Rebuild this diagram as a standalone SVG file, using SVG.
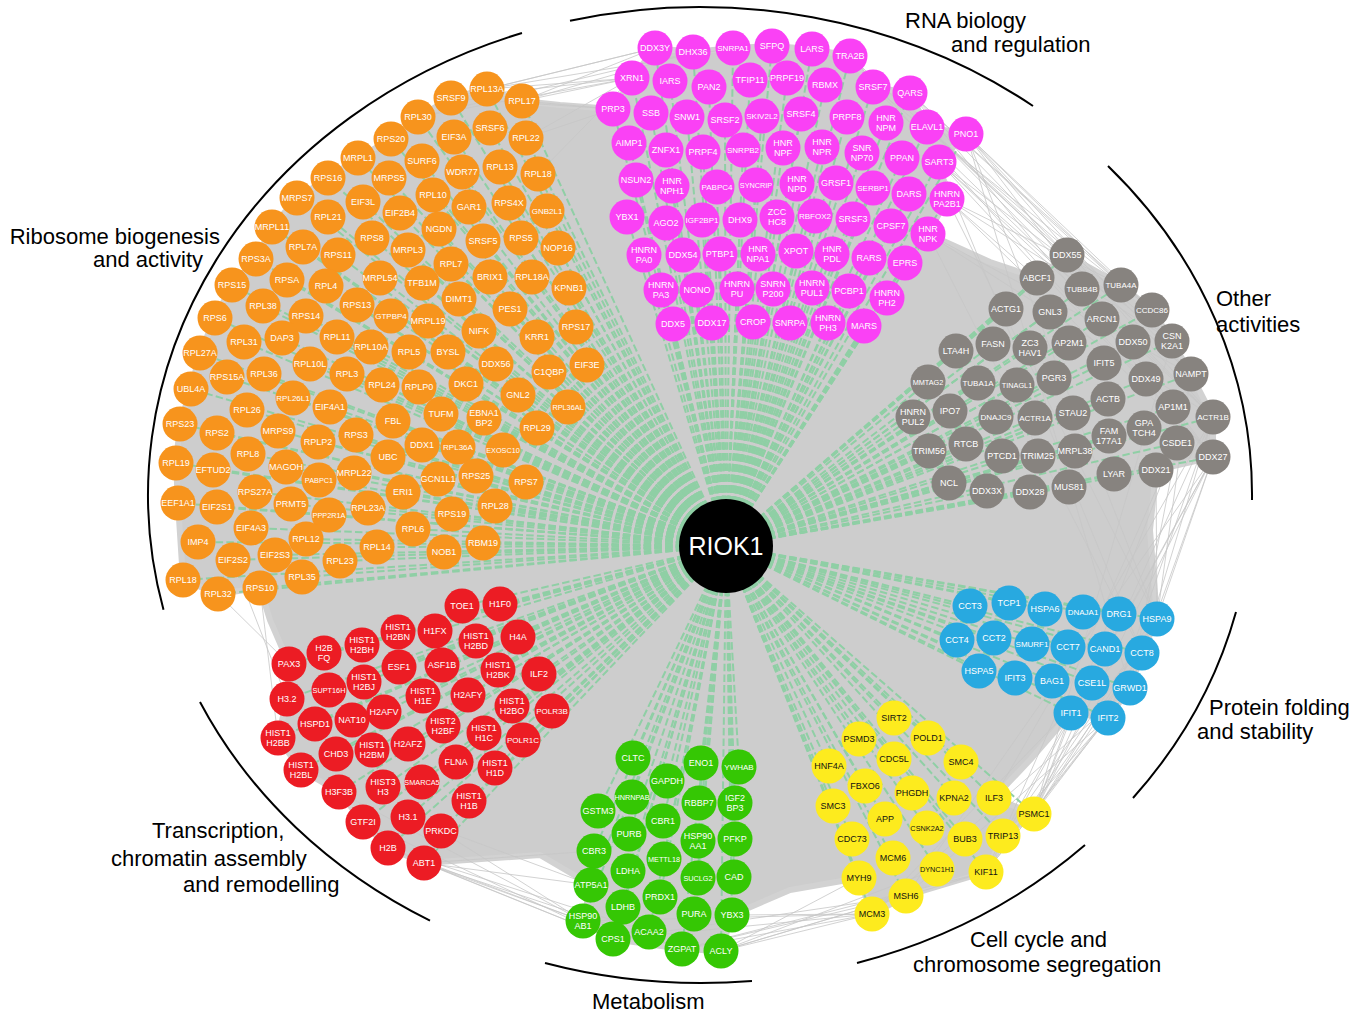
<svg xmlns="http://www.w3.org/2000/svg" width="1365" height="1014" viewBox="0 0 1365 1014">
<style>
text{font-family:"Liberation Sans",Arial,sans-serif;text-anchor:middle;dominant-baseline:central;font-size:9px;fill:#fff}
.s8{font-size:8px}.s7{font-size:7.3px}
.o circle{fill:#F7941D}.m circle{fill:#FA41F5}.g circle{fill:#87837F}.r circle{fill:#EC1C24}
.gr circle{fill:#35C704}.y circle{fill:#FDEB1E}.b circle{fill:#28A9E0}
.y text{fill:#111}
.cat{font-size:22px;fill:#000;text-anchor:start;dominant-baseline:auto}
.cat.e{text-anchor:end}
.arc{fill:none;stroke:#000;stroke-width:2}
.mesh{fill:#cdcdcd;stroke:#d2d2d2;stroke-width:6;stroke-linejoin:round}
.fan{fill:none;stroke:#c6c6c6;stroke-width:0.8}
.sp path{fill:none;stroke:#8fcfa5;stroke-width:2;stroke-dasharray:7.5 3.2}
</style>
<rect width="1365" height="1014" fill="#fff"/>
<g id="connectors">
<path class="mesh" d="M487,89 L522,101 L560,105 L613,109 L632,78 L655,48 L693,52 L733,48 L772,46 L812,49 L850,56 L873,87 L910,93 L927,127 L966,134 L939,162 L947,199 L928,234 L990,262 L1037,278 L1067,255 L1121,285 L1152,310 L1172,341 L1191,374 L1213,417 L1213,457 L1156,470 L1150,530 L1157,619 L1142,653 L1130,688 L1108,718 L1071,713 L1030,760 L994,798 L1034,814 L1003,836 L986,872 L906,896 L872,914 L859,878 L790,890 L732,915 L721,951 L682,949 L613,939 L583,921 L591,885 L540,855 L424,863 L388,848 L363,822 L339,792 L301,770 L278,738 L287,699 L289,664 L270,620 L260,588 L218,594 L183,580 L178,503 L176,463 L180,424 L191,389 L200,353 L215,318 L232,285 L256,259 L272,227 L297,198 L328,178 L358,158 L391,139 L418,117 L451,98 Z"/>
<path class="fan" d="M966,134L1152,310M966,134L1191,374M966,134L1213,417M966,134L1213,457M966,134L1157,619M966,134L1121,285M939,162L1172,341M939,162L1213,417M939,162L1213,457M939,162L1142,653M927,127L1191,374M927,127L1067,255M927,127L1213,417M947,199L1121,285M947,199L1213,457M947,199L1157,619M947,199L1172,341M910,93L1152,310M910,93L1067,255M910,93L1213,457M928,234L1191,374M928,234L1142,653M928,234L1213,417M873,87L1213,417M873,87L1152,310M850,56L1213,457M850,56L1191,374M966,134L1130,688M939,162L1082,289M947,199L1037,278M910,93L1121,285M927,127L1172,341
M1213,457L1157,619M1213,457L1130,688M1213,457L1034,814M1213,457L986,872M1213,457L1003,836M1213,417L1142,653M1213,417L1034,814M1213,417L1108,718M1177,443L1034,814M1177,443L986,872M1191,374L1130,688M1191,374L1157,619M1156,470L1157,619M1172,341L1034,814M1157,619L1034,814M1157,619L986,872M1157,619L1003,836M1142,653L1034,814M1142,653L986,872M1130,688L986,872M1130,688L1034,814M1130,688L872,914M1108,718L1003,836M1108,718L986,872M1108,718L906,896M1071,713L1034,814M1157,619L872,914M1213,457L906,896M1213,417L994,798
M872,914L721,951M872,914L682,949M872,914L732,915M906,896L721,951M906,896L682,949M859,878L721,951M872,914L613,939M906,896L613,939M986,872L721,951M937,869L721,951M872,914L583,921M986,872L682,949
M583,921L424,863M583,921L388,848M583,921L441,831M591,885L424,863M591,885L408,817M613,939L424,863M613,939L388,848M613,939L363,822M594,851L424,863M682,949L424,863M649,932L388,848M583,921L339,792
M289,664L218,594M287,699L233,560M278,738L260,588
M487,89L655,48M487,89L632,78M522,101L655,48M522,101L693,52M522,101L632,78M522,101L613,109M451,98L655,48M451,98L632,78M418,117L632,78M418,117L693,52M526,138L613,109M526,138L632,78M487,89L733,48M451,98L613,109M538,174L632,78"/>
<g class="sp">
<path d="M726 546L487 89"/><path d="M726 546L522 101"/><path d="M726 546L451 98"/><path d="M726 546L418 117"/><path d="M726 546L490 128"/><path d="M726 546L454 137"/><path d="M726 546L526 138"/><path d="M726 546L391 139"/><path d="M726 546L358 158"/><path d="M726 546L422 161"/><path d="M726 546L462 172"/><path d="M726 546L500 167"/><path d="M726 546L538 174"/><path d="M726 546L328 178"/><path d="M726 546L389 178"/><path d="M726 546L433 195"/><path d="M726 546L469 207"/><path d="M726 546L509 203"/><path d="M726 546L547 211"/><path d="M726 546L297 198"/><path d="M726 546L363 202"/><path d="M726 546L400 213"/><path d="M726 546L328 217"/><path d="M726 546L439 229"/><path d="M726 546L372 238"/><path d="M726 546L483 241"/><path d="M726 546L521 238"/><path d="M726 546L558 248"/><path d="M726 546L272 227"/><path d="M726 546L303 247"/><path d="M726 546L408 250"/><path d="M726 546L338 255"/><path d="M726 546L451 264"/><path d="M726 546L490 277"/><path d="M726 546L532 277"/><path d="M726 546L569 288"/><path d="M726 546L256 259"/><path d="M726 546L287 280"/><path d="M726 546L326 286"/><path d="M726 546L380 278"/><path d="M726 546L422 283"/><path d="M726 546L459 299"/><path d="M726 546L510 309"/><path d="M726 546L232 285"/><path d="M726 546L263 306"/><path d="M726 546L357 305"/><path d="M726 546L306 316"/><path d="M726 546L391 316"/><path d="M726 546L428 321"/><path d="M726 546L479 331"/><path d="M726 546L537 337"/><path d="M726 546L576 327"/><path d="M726 546L215 318"/><path d="M726 546L244 342"/><path d="M726 546L282 338"/><path d="M726 546L337 337"/><path d="M726 546L310 364"/><path d="M726 546L371 347"/><path d="M726 546L409 352"/><path d="M726 546L448 352"/><path d="M726 546L496 364"/><path d="M726 546L549 372"/><path d="M726 546L587 365"/><path d="M726 546L200 353"/><path d="M726 546L227 377"/><path d="M726 546L264 374"/><path d="M726 546L347 374"/><path d="M726 546L382 385"/><path d="M726 546L419 387"/><path d="M726 546L466 384"/><path d="M726 546L518 395"/><path d="M726 546L568 407"/><path d="M726 546L191 389"/><path d="M726 546L293 398"/><path d="M726 546L330 407"/><path d="M726 546L247 410"/><path d="M726 546L393 421"/><path d="M726 546L441 414"/><path d="M726 546L484 418"/><path d="M726 546L537 428"/><path d="M726 546L180 424"/><path d="M726 546L217 433"/><path d="M726 546L278 431"/><path d="M726 546L318 442"/><path d="M726 546L356 435"/><path d="M726 546L422 445"/><path d="M726 546L458 447"/><path d="M726 546L503 450"/><path d="M726 546L176 463"/><path d="M726 546L213 470"/><path d="M726 546L248 454"/><path d="M726 546L286 467"/><path d="M726 546L388 457"/><path d="M726 546L354 473"/><path d="M726 546L319 480"/><path d="M726 546L438 479"/><path d="M726 546L476 476"/><path d="M726 546L526 482"/><path d="M726 546L178 503"/><path d="M726 546L217 507"/><path d="M726 546L255 492"/><path d="M726 546L291 504"/><path d="M726 546L329 515"/><path d="M726 546L368 508"/><path d="M726 546L403 492"/><path d="M726 546L495 506"/><path d="M726 546L452 514"/><path d="M726 546L251 528"/><path d="M726 546L306 539"/><path d="M726 546L413 529"/><path d="M726 546L377 547"/><path d="M726 546L444 552"/><path d="M726 546L483 543"/><path d="M726 546L198 542"/><path d="M726 546L233 560"/><path d="M726 546L275 555"/><path d="M726 546L340 561"/><path d="M726 546L302 577"/><path d="M726 546L183 580"/><path d="M726 546L218 594"/><path d="M726 546L260 588"/>
<path d="M726 546L655 48"/><path d="M726 546L693 52"/><path d="M726 546L733 48"/><path d="M726 546L772 46"/><path d="M726 546L812 49"/><path d="M726 546L850 56"/><path d="M726 546L632 78"/><path d="M726 546L670 81"/><path d="M726 546L709 87"/><path d="M726 546L750 80"/><path d="M726 546L787 78"/><path d="M726 546L825 85"/><path d="M726 546L873 87"/><path d="M726 546L910 93"/><path d="M726 546L613 109"/><path d="M726 546L651 113"/><path d="M726 546L687 117"/><path d="M726 546L725 120"/><path d="M726 546L762 116"/><path d="M726 546L801 114"/><path d="M726 546L847 117"/><path d="M726 546L886 123"/><path d="M726 546L927 127"/><path d="M726 546L966 134"/><path d="M726 546L629 143"/><path d="M726 546L666 150"/><path d="M726 546L703 152"/><path d="M726 546L743 150"/><path d="M726 546L783 148"/><path d="M726 546L822 147"/><path d="M726 546L862 153"/><path d="M726 546L902 158"/><path d="M726 546L939 162"/><path d="M726 546L636 180"/><path d="M726 546L672 186"/><path d="M726 546L717 187"/><path d="M726 546L756 185"/><path d="M726 546L797 184"/><path d="M726 546L836 183"/><path d="M726 546L873 188"/><path d="M726 546L909 194"/><path d="M726 546L947 199"/><path d="M726 546L627 217"/><path d="M726 546L666 223"/><path d="M726 546L702 220"/><path d="M726 546L740 220"/><path d="M726 546L777 217"/><path d="M726 546L815 216"/><path d="M726 546L853 219"/><path d="M726 546L891 226"/><path d="M726 546L928 234"/><path d="M726 546L644 255"/><path d="M726 546L683 255"/><path d="M726 546L720 254"/><path d="M726 546L758 254"/><path d="M726 546L796 251"/><path d="M726 546L832 254"/><path d="M726 546L869 258"/><path d="M726 546L905 263"/><path d="M726 546L661 290"/><path d="M726 546L697 290"/><path d="M726 546L737 289"/><path d="M726 546L773 289"/><path d="M726 546L812 288"/><path d="M726 546L849 291"/><path d="M726 546L887 298"/><path d="M726 546L673 324"/><path d="M726 546L712 323"/><path d="M726 546L753 322"/><path d="M726 546L790 323"/><path d="M726 546L828 323"/><path d="M726 546L864 326"/>
<path d="M726 546L1067 255"/><path d="M726 546L1037 278"/><path d="M726 546L1082 289"/><path d="M726 546L1121 285"/><path d="M726 546L1006 309"/><path d="M726 546L1050 312"/><path d="M726 546L1102 319"/><path d="M726 546L1152 310"/><path d="M726 546L956 351"/><path d="M726 546L993 344"/><path d="M726 546L1030 348"/><path d="M726 546L1069 343"/><path d="M726 546L1133 342"/><path d="M726 546L1172 341"/><path d="M726 546L1104 363"/><path d="M726 546L928 382"/><path d="M726 546L978 383"/><path d="M726 546L1017 385"/><path d="M726 546L1054 378"/><path d="M726 546L1146 379"/><path d="M726 546L1191 374"/><path d="M726 546L1108 399"/><path d="M726 546L913 417"/><path d="M726 546L950 411"/><path d="M726 546L996 417"/><path d="M726 546L1035 418"/><path d="M726 546L1073 413"/><path d="M726 546L1173 407"/><path d="M726 546L1213 417"/><path d="M726 546L1144 428"/><path d="M726 546L1109 436"/><path d="M726 546L929 451"/><path d="M726 546L966 444"/><path d="M726 546L1002 456"/><path d="M726 546L1038 456"/><path d="M726 546L1075 451"/><path d="M726 546L1177 443"/><path d="M726 546L1213 457"/><path d="M726 546L1114 474"/><path d="M726 546L1156 470"/><path d="M726 546L949 483"/><path d="M726 546L987 491"/><path d="M726 546L1030 492"/><path d="M726 546L1069 487"/>
<path d="M726 546L462 606"/><path d="M726 546L500 604"/><path d="M726 546L398 632"/><path d="M726 546L435 631"/><path d="M726 546L476 641"/><path d="M726 546L518 637"/><path d="M726 546L324 653"/><path d="M726 546L362 645"/><path d="M726 546L289 664"/><path d="M726 546L399 667"/><path d="M726 546L442 665"/><path d="M726 546L498 670"/><path d="M726 546L539 674"/><path d="M726 546L329 690"/><path d="M726 546L364 682"/><path d="M726 546L423 696"/><path d="M726 546L468 695"/><path d="M726 546L512 706"/><path d="M726 546L552 711"/><path d="M726 546L287 699"/><path d="M726 546L384 712"/><path d="M726 546L352 720"/><path d="M726 546L315 724"/><path d="M726 546L443 726"/><path d="M726 546L484 733"/><path d="M726 546L523 740"/><path d="M726 546L278 738"/><path d="M726 546L336 754"/><path d="M726 546L372 750"/><path d="M726 546L408 744"/><path d="M726 546L456 762"/><path d="M726 546L495 768"/><path d="M726 546L301 770"/><path d="M726 546L339 792"/><path d="M726 546L383 787"/><path d="M726 546L422 782"/><path d="M726 546L469 801"/><path d="M726 546L363 822"/><path d="M726 546L408 817"/><path d="M726 546L441 831"/><path d="M726 546L388 848"/><path d="M726 546L424 863"/>
<path d="M726 546L633 758"/><path d="M726 546L701 763"/><path d="M726 546L739 767"/><path d="M726 546L667 781"/><path d="M726 546L632 797"/><path d="M726 546L699 803"/><path d="M726 546L735 803"/><path d="M726 546L598 811"/><path d="M726 546L663 821"/><path d="M726 546L629 834"/><path d="M726 546L698 841"/><path d="M726 546L735 839"/><path d="M726 546L594 851"/><path d="M726 546L664 859"/><path d="M726 546L628 871"/><path d="M726 546L698 878"/><path d="M726 546L734 877"/><path d="M726 546L591 885"/><path d="M726 546L660 897"/><path d="M726 546L623 907"/><path d="M726 546L694 914"/><path d="M726 546L732 915"/><path d="M726 546L583 921"/><path d="M726 546L613 939"/><path d="M726 546L649 932"/><path d="M726 546L682 949"/><path d="M726 546L721 951"/>
<path d="M726 546L894 718"/><path d="M726 546L859 739"/><path d="M726 546L928 738"/><path d="M726 546L894 759"/><path d="M726 546L961 762"/><path d="M726 546L829 766"/><path d="M726 546L865 786"/><path d="M726 546L912 793"/><path d="M726 546L954 798"/><path d="M726 546L994 798"/><path d="M726 546L1034 814"/><path d="M726 546L833 806"/><path d="M726 546L885 819"/><path d="M726 546L927 828"/><path d="M726 546L965 839"/><path d="M726 546L1003 836"/><path d="M726 546L852 839"/><path d="M726 546L893 858"/><path d="M726 546L937 869"/><path d="M726 546L986 872"/><path d="M726 546L859 878"/><path d="M726 546L906 896"/><path d="M726 546L872 914"/>
<path d="M726 546L970 606"/><path d="M726 546L1009 603"/><path d="M726 546L1045 609"/><path d="M726 546L1083 612"/><path d="M726 546L1119 614"/><path d="M726 546L1157 619"/><path d="M726 546L957 640"/><path d="M726 546L994 638"/><path d="M726 546L1032 644"/><path d="M726 546L1068 647"/><path d="M726 546L1105 649"/><path d="M726 546L1142 653"/><path d="M726 546L979 671"/><path d="M726 546L1015 678"/><path d="M726 546L1052 681"/><path d="M726 546L1092 683"/><path d="M726 546L1130 688"/><path d="M726 546L1071 713"/><path d="M726 546L1108 718"/>
</g>
</g>
<g id="category-arcs">
<path class="arc" d="M522,33 A552,488 0 0 0 163.5,609.7"/>
<path class="arc" d="M570,20.7 A552,488 0 0 1 1033,106"/>
<path class="arc" d="M1108,166 A552,488 0 0 1 1252,500"/>
<path class="arc" d="M1236,612 A552,488 0 0 1 1133,798"/>
<path class="arc" d="M1085,845 A552,488 0 0 1 857,963"/>
<path class="arc" d="M545,963 A552,488 0 0 0 752,981"/>
<path class="arc" d="M430,920.6 A552,488 0 0 1 200,702"/>
</g>
<g id="category-labels">
<text class="cat e" x="220" y="244">Ribosome biogenesis</text>
<text class="cat e" x="203" y="267">and activity</text>
<text class="cat" x="905" y="28">RNA biology</text>
<text class="cat" x="951" y="52">and regulation</text>
<text class="cat" x="1216" y="306">Other</text>
<text class="cat" x="1216" y="332">activities</text>
<text class="cat" x="1209" y="715">Protein folding</text>
<text class="cat" x="1197" y="739">and stability</text>
<text class="cat" x="970" y="947">Cell cycle and</text>
<text class="cat" x="913" y="972">chromosome segregation</text>
<text class="cat" x="592" y="1009">Metabolism</text>
<text class="cat" x="152" y="838">Transcription,</text>
<text class="cat" x="111" y="866">chromatin assembly</text>
<text class="cat" x="183" y="892">and remodelling</text>
</g>
<g id="nodes">
<g id="n-RPL13A" class="o"><circle cx="487" cy="89" r="17.5"/><text x="487" y="89">RPL13A</text></g>
<g id="n-RPL17" class="o"><circle cx="522" cy="101" r="17.5"/><text x="522" y="101">RPL17</text></g>
<g id="n-SRSF9" class="o"><circle cx="451" cy="98" r="17.5"/><text x="451" y="98">SRSF9</text></g>
<g id="n-RPL30" class="o"><circle cx="418" cy="117" r="17.5"/><text x="418" y="117">RPL30</text></g>
<g id="n-SRSF6" class="o"><circle cx="490" cy="128" r="17.5"/><text x="490" y="128">SRSF6</text></g>
<g id="n-EIF3A" class="o"><circle cx="454" cy="137" r="17.5"/><text x="454" y="137">EIF3A</text></g>
<g id="n-RPL22" class="o"><circle cx="526" cy="138" r="17.5"/><text x="526" y="138">RPL22</text></g>
<g id="n-RPS20" class="o"><circle cx="391" cy="139" r="17.5"/><text x="391" y="139">RPS20</text></g>
<g id="n-MRPL1" class="o"><circle cx="358" cy="158" r="17.5"/><text x="358" y="158">MRPL1</text></g>
<g id="n-SURF6" class="o"><circle cx="422" cy="161" r="17.5"/><text x="422" y="161">SURF6</text></g>
<g id="n-WDR77" class="o"><circle cx="462" cy="172" r="17.5"/><text x="462" y="172">WDR77</text></g>
<g id="n-RPL13" class="o"><circle cx="500" cy="167" r="17.5"/><text x="500" y="167">RPL13</text></g>
<g id="n-RPL18" class="o"><circle cx="538" cy="174" r="17.5"/><text x="538" y="174">RPL18</text></g>
<g id="n-RPS16" class="o"><circle cx="328" cy="178" r="17.5"/><text x="328" y="178">RPS16</text></g>
<g id="n-MRPS5" class="o"><circle cx="389" cy="178" r="17.5"/><text x="389" y="178">MRPS5</text></g>
<g id="n-RPL10" class="o"><circle cx="433" cy="195" r="17.5"/><text x="433" y="195">RPL10</text></g>
<g id="n-GAR1" class="o"><circle cx="469" cy="207" r="17.5"/><text x="469" y="207">GAR1</text></g>
<g id="n-RPS4X" class="o"><circle cx="509" cy="203" r="17.5"/><text x="509" y="203">RPS4X</text></g>
<g id="n-GNB2L1" class="o"><circle cx="547" cy="211" r="17.5"/><text class="s8" x="547" y="211">GNB2L1</text></g>
<g id="n-MRPS7" class="o"><circle cx="297" cy="198" r="17.5"/><text x="297" y="198">MRPS7</text></g>
<g id="n-EIF3L" class="o"><circle cx="363" cy="202" r="17.5"/><text x="363" y="202">EIF3L</text></g>
<g id="n-EIF2B4" class="o"><circle cx="400" cy="213" r="17.5"/><text x="400" y="213">EIF2B4</text></g>
<g id="n-RPL21" class="o"><circle cx="328" cy="217" r="17.5"/><text x="328" y="217">RPL21</text></g>
<g id="n-NGDN" class="o"><circle cx="439" cy="229" r="17.5"/><text x="439" y="229">NGDN</text></g>
<g id="n-RPS8" class="o"><circle cx="372" cy="238" r="17.5"/><text x="372" y="238">RPS8</text></g>
<g id="n-SRSF5" class="o"><circle cx="483" cy="241" r="17.5"/><text x="483" y="241">SRSF5</text></g>
<g id="n-RPS5" class="o"><circle cx="521" cy="238" r="17.5"/><text x="521" y="238">RPS5</text></g>
<g id="n-NOP16" class="o"><circle cx="558" cy="248" r="17.5"/><text x="558" y="248">NOP16</text></g>
<g id="n-MRPL11" class="o"><circle cx="272" cy="227" r="17.5"/><text x="272" y="227">MRPL11</text></g>
<g id="n-RPL7A" class="o"><circle cx="303" cy="247" r="17.5"/><text x="303" y="247">RPL7A</text></g>
<g id="n-MRPL3" class="o"><circle cx="408" cy="250" r="17.5"/><text x="408" y="250">MRPL3</text></g>
<g id="n-RPS11" class="o"><circle cx="338" cy="255" r="17.5"/><text x="338" y="255">RPS11</text></g>
<g id="n-RPL7" class="o"><circle cx="451" cy="264" r="17.5"/><text x="451" y="264">RPL7</text></g>
<g id="n-BRIX1" class="o"><circle cx="490" cy="277" r="17.5"/><text x="490" y="277">BRIX1</text></g>
<g id="n-RPL18A" class="o"><circle cx="532" cy="277" r="17.5"/><text x="532" y="277">RPL18A</text></g>
<g id="n-KPNB1" class="o"><circle cx="569" cy="288" r="17.5"/><text x="569" y="288">KPNB1</text></g>
<g id="n-RPS3A" class="o"><circle cx="256" cy="259" r="17.5"/><text x="256" y="259">RPS3A</text></g>
<g id="n-RPSA" class="o"><circle cx="287" cy="280" r="17.5"/><text x="287" y="280">RPSA</text></g>
<g id="n-RPL4" class="o"><circle cx="326" cy="286" r="17.5"/><text x="326" y="286">RPL4</text></g>
<g id="n-MRPL54" class="o"><circle cx="380" cy="278" r="17.5"/><text x="380" y="278">MRPL54</text></g>
<g id="n-TFB1M" class="o"><circle cx="422" cy="283" r="17.5"/><text x="422" y="283">TFB1M</text></g>
<g id="n-DIMT1" class="o"><circle cx="459" cy="299" r="17.5"/><text x="459" y="299">DIMT1</text></g>
<g id="n-PES1" class="o"><circle cx="510" cy="309" r="17.5"/><text x="510" y="309">PES1</text></g>
<g id="n-RPS15" class="o"><circle cx="232" cy="285" r="17.5"/><text x="232" y="285">RPS15</text></g>
<g id="n-RPL38" class="o"><circle cx="263" cy="306" r="17.5"/><text x="263" y="306">RPL38</text></g>
<g id="n-RPS13" class="o"><circle cx="357" cy="305" r="17.5"/><text x="357" y="305">RPS13</text></g>
<g id="n-RPS14" class="o"><circle cx="306" cy="316" r="17.5"/><text x="306" y="316">RPS14</text></g>
<g id="n-GTPBP4" class="o"><circle cx="391" cy="316" r="17.5"/><text class="s8" x="391" y="316">GTPBP4</text></g>
<g id="n-MRPL19" class="o"><circle cx="428" cy="321" r="17.5"/><text x="428" y="321">MRPL19</text></g>
<g id="n-NIFK" class="o"><circle cx="479" cy="331" r="17.5"/><text x="479" y="331">NIFK</text></g>
<g id="n-KRR1" class="o"><circle cx="537" cy="337" r="17.5"/><text x="537" y="337">KRR1</text></g>
<g id="n-RPS17" class="o"><circle cx="576" cy="327" r="17.5"/><text x="576" y="327">RPS17</text></g>
<g id="n-RPS6" class="o"><circle cx="215" cy="318" r="17.5"/><text x="215" y="318">RPS6</text></g>
<g id="n-RPL31" class="o"><circle cx="244" cy="342" r="17.5"/><text x="244" y="342">RPL31</text></g>
<g id="n-DAP3" class="o"><circle cx="282" cy="338" r="17.5"/><text x="282" y="338">DAP3</text></g>
<g id="n-RPL11" class="o"><circle cx="337" cy="337" r="17.5"/><text x="337" y="337">RPL11</text></g>
<g id="n-RPL10L" class="o"><circle cx="310" cy="364" r="17.5"/><text x="310" y="364">RPL10L</text></g>
<g id="n-RPL10A" class="o"><circle cx="371" cy="347" r="17.5"/><text x="371" y="347">RPL10A</text></g>
<g id="n-RPL5" class="o"><circle cx="409" cy="352" r="17.5"/><text x="409" y="352">RPL5</text></g>
<g id="n-BYSL" class="o"><circle cx="448" cy="352" r="17.5"/><text x="448" y="352">BYSL</text></g>
<g id="n-DDX56" class="o"><circle cx="496" cy="364" r="17.5"/><text x="496" y="364">DDX56</text></g>
<g id="n-C1QBP" class="o"><circle cx="549" cy="372" r="17.5"/><text x="549" y="372">C1QBP</text></g>
<g id="n-EIF3E" class="o"><circle cx="587" cy="365" r="17.5"/><text x="587" y="365">EIF3E</text></g>
<g id="n-RPL27A" class="o"><circle cx="200" cy="353" r="17.5"/><text x="200" y="353">RPL27A</text></g>
<g id="n-RPS15A" class="o"><circle cx="227" cy="377" r="17.5"/><text x="227" y="377">RPS15A</text></g>
<g id="n-RPL36" class="o"><circle cx="264" cy="374" r="17.5"/><text x="264" y="374">RPL36</text></g>
<g id="n-RPL3" class="o"><circle cx="347" cy="374" r="17.5"/><text x="347" y="374">RPL3</text></g>
<g id="n-RPL24" class="o"><circle cx="382" cy="385" r="17.5"/><text x="382" y="385">RPL24</text></g>
<g id="n-RPLP0" class="o"><circle cx="419" cy="387" r="17.5"/><text x="419" y="387">RPLP0</text></g>
<g id="n-DKC1" class="o"><circle cx="466" cy="384" r="17.5"/><text x="466" y="384">DKC1</text></g>
<g id="n-GNL2" class="o"><circle cx="518" cy="395" r="17.5"/><text x="518" y="395">GNL2</text></g>
<g id="n-RPL36AL" class="o"><circle cx="568" cy="407" r="17.5"/><text class="s7" x="568" y="407">RPL36AL</text></g>
<g id="n-UBL4A" class="o"><circle cx="191" cy="389" r="17.5"/><text x="191" y="389">UBL4A</text></g>
<g id="n-RPL26L1" class="o"><circle cx="293" cy="398" r="17.5"/><text class="s8" x="293" y="398">RPL26L1</text></g>
<g id="n-EIF4A1" class="o"><circle cx="330" cy="407" r="17.5"/><text x="330" y="407">EIF4A1</text></g>
<g id="n-RPL26" class="o"><circle cx="247" cy="410" r="17.5"/><text x="247" y="410">RPL26</text></g>
<g id="n-FBL" class="o"><circle cx="393" cy="421" r="17.5"/><text x="393" y="421">FBL</text></g>
<g id="n-TUFM" class="o"><circle cx="441" cy="414" r="17.5"/><text x="441" y="414">TUFM</text></g>
<g id="n-EBNA1BP2" class="o"><circle cx="484" cy="418" r="17.5"/><text x="484" y="418"><tspan x="484" dy="-4.75">EBNA1</tspan><tspan x="484" dy="9.5">BP2</tspan></text></g>
<g id="n-RPL29" class="o"><circle cx="537" cy="428" r="17.5"/><text x="537" y="428">RPL29</text></g>
<g id="n-RPS23" class="o"><circle cx="180" cy="424" r="17.5"/><text x="180" y="424">RPS23</text></g>
<g id="n-RPS2" class="o"><circle cx="217" cy="433" r="17.5"/><text x="217" y="433">RPS2</text></g>
<g id="n-MRPS9" class="o"><circle cx="278" cy="431" r="17.5"/><text x="278" y="431">MRPS9</text></g>
<g id="n-RPLP2" class="o"><circle cx="318" cy="442" r="17.5"/><text x="318" y="442">RPLP2</text></g>
<g id="n-RPS3" class="o"><circle cx="356" cy="435" r="17.5"/><text x="356" y="435">RPS3</text></g>
<g id="n-DDX1" class="o"><circle cx="422" cy="445" r="17.5"/><text x="422" y="445">DDX1</text></g>
<g id="n-RPL36A" class="o"><circle cx="458" cy="447" r="17.5"/><text class="s8" x="458" y="447">RPL36A</text></g>
<g id="n-EXOSC10" class="o"><circle cx="503" cy="450" r="17.5"/><text class="s7" x="503" y="450">EXOSC10</text></g>
<g id="n-RPL19" class="o"><circle cx="176" cy="463" r="17.5"/><text x="176" y="463">RPL19</text></g>
<g id="n-EFTUD2" class="o"><circle cx="213" cy="470" r="17.5"/><text x="213" y="470">EFTUD2</text></g>
<g id="n-RPL8" class="o"><circle cx="248" cy="454" r="17.5"/><text x="248" y="454">RPL8</text></g>
<g id="n-MAGOH" class="o"><circle cx="286" cy="467" r="17.5"/><text x="286" y="467">MAGOH</text></g>
<g id="n-UBC" class="o"><circle cx="388" cy="457" r="17.5"/><text x="388" y="457">UBC</text></g>
<g id="n-MRPL22" class="o"><circle cx="354" cy="473" r="17.5"/><text x="354" y="473">MRPL22</text></g>
<g id="n-PABPC1" class="o"><circle cx="319" cy="480" r="17.5"/><text class="s7" x="319" y="480">PABPC1</text></g>
<g id="n-GCN1L1" class="o"><circle cx="438" cy="479" r="17.5"/><text x="438" y="479">GCN1L1</text></g>
<g id="n-RPS25" class="o"><circle cx="476" cy="476" r="17.5"/><text x="476" y="476">RPS25</text></g>
<g id="n-RPS7" class="o"><circle cx="526" cy="482" r="17.5"/><text x="526" y="482">RPS7</text></g>
<g id="n-EEF1A1" class="o"><circle cx="178" cy="503" r="17.5"/><text x="178" y="503">EEF1A1</text></g>
<g id="n-EIF2S1" class="o"><circle cx="217" cy="507" r="17.5"/><text x="217" y="507">EIF2S1</text></g>
<g id="n-RPS27A" class="o"><circle cx="255" cy="492" r="17.5"/><text x="255" y="492">RPS27A</text></g>
<g id="n-PRMT5" class="o"><circle cx="291" cy="504" r="17.5"/><text x="291" y="504">PRMT5</text></g>
<g id="n-PPP2R1A" class="o"><circle cx="329" cy="515" r="17.5"/><text class="s7" x="329" y="515">PPP2R1A</text></g>
<g id="n-RPL23A" class="o"><circle cx="368" cy="508" r="17.5"/><text x="368" y="508">RPL23A</text></g>
<g id="n-ERI1" class="o"><circle cx="403" cy="492" r="17.5"/><text x="403" y="492">ERI1</text></g>
<g id="n-RPL28" class="o"><circle cx="495" cy="506" r="17.5"/><text x="495" y="506">RPL28</text></g>
<g id="n-RPS19" class="o"><circle cx="452" cy="514" r="17.5"/><text x="452" y="514">RPS19</text></g>
<g id="n-EIF4A3" class="o"><circle cx="251" cy="528" r="17.5"/><text x="251" y="528">EIF4A3</text></g>
<g id="n-RPL12" class="o"><circle cx="306" cy="539" r="17.5"/><text x="306" y="539">RPL12</text></g>
<g id="n-RPL6" class="o"><circle cx="413" cy="529" r="17.5"/><text x="413" y="529">RPL6</text></g>
<g id="n-RPL14" class="o"><circle cx="377" cy="547" r="17.5"/><text x="377" y="547">RPL14</text></g>
<g id="n-NOB1" class="o"><circle cx="444" cy="552" r="17.5"/><text x="444" y="552">NOB1</text></g>
<g id="n-RBM19" class="o"><circle cx="483" cy="543" r="17.5"/><text x="483" y="543">RBM19</text></g>
<g id="n-IMP4" class="o"><circle cx="198" cy="542" r="17.5"/><text x="198" y="542">IMP4</text></g>
<g id="n-EIF2S2" class="o"><circle cx="233" cy="560" r="17.5"/><text x="233" y="560">EIF2S2</text></g>
<g id="n-EIF2S3" class="o"><circle cx="275" cy="555" r="17.5"/><text x="275" y="555">EIF2S3</text></g>
<g id="n-RPL23" class="o"><circle cx="340" cy="561" r="17.5"/><text x="340" y="561">RPL23</text></g>
<g id="n-RPL35" class="o"><circle cx="302" cy="577" r="17.5"/><text x="302" y="577">RPL35</text></g>
<g id="n-RPL18-2" class="o"><circle cx="183" cy="580" r="17.5"/><text x="183" y="580">RPL18</text></g>
<g id="n-RPL32" class="o"><circle cx="218" cy="594" r="17.5"/><text x="218" y="594">RPL32</text></g>
<g id="n-RPS10" class="o"><circle cx="260" cy="588" r="17.5"/><text x="260" y="588">RPS10</text></g>

<g id="n-DDX3Y" class="m"><circle cx="655" cy="48" r="17.5"/><text x="655" y="48">DDX3Y</text></g>
<g id="n-DHX36" class="m"><circle cx="693" cy="52" r="17.5"/><text x="693" y="52">DHX36</text></g>
<g id="n-SNRPA1" class="m"><circle cx="733" cy="48" r="17.5"/><text class="s8" x="733" y="48">SNRPA1</text></g>
<g id="n-SFPQ" class="m"><circle cx="772" cy="46" r="17.5"/><text x="772" y="46">SFPQ</text></g>
<g id="n-LARS" class="m"><circle cx="812" cy="49" r="17.5"/><text x="812" y="49">LARS</text></g>
<g id="n-TRA2B" class="m"><circle cx="850" cy="56" r="17.5"/><text x="850" y="56">TRA2B</text></g>
<g id="n-XRN1" class="m"><circle cx="632" cy="78" r="17.5"/><text x="632" y="78">XRN1</text></g>
<g id="n-IARS" class="m"><circle cx="670" cy="81" r="17.5"/><text x="670" y="81">IARS</text></g>
<g id="n-PAN2" class="m"><circle cx="709" cy="87" r="17.5"/><text x="709" y="87">PAN2</text></g>
<g id="n-TFIP11" class="m"><circle cx="750" cy="80" r="17.5"/><text x="750" y="80">TFIP11</text></g>
<g id="n-PRPF19" class="m"><circle cx="787" cy="78" r="17.5"/><text x="787" y="78">PRPF19</text></g>
<g id="n-RBMX" class="m"><circle cx="825" cy="85" r="17.5"/><text x="825" y="85">RBMX</text></g>
<g id="n-SRSF7" class="m"><circle cx="873" cy="87" r="17.5"/><text x="873" y="87">SRSF7</text></g>
<g id="n-QARS" class="m"><circle cx="910" cy="93" r="17.5"/><text x="910" y="93">QARS</text></g>
<g id="n-PRP3" class="m"><circle cx="613" cy="109" r="17.5"/><text x="613" y="109">PRP3</text></g>
<g id="n-SSB" class="m"><circle cx="651" cy="113" r="17.5"/><text x="651" y="113">SSB</text></g>
<g id="n-SNW1" class="m"><circle cx="687" cy="117" r="17.5"/><text x="687" y="117">SNW1</text></g>
<g id="n-SRSF2" class="m"><circle cx="725" cy="120" r="17.5"/><text x="725" y="120">SRSF2</text></g>
<g id="n-SKIV2L2" class="m"><circle cx="762" cy="116" r="17.5"/><text class="s8" x="762" y="116">SKIV2L2</text></g>
<g id="n-SRSF4" class="m"><circle cx="801" cy="114" r="17.5"/><text x="801" y="114">SRSF4</text></g>
<g id="n-PRPF8" class="m"><circle cx="847" cy="117" r="17.5"/><text x="847" y="117">PRPF8</text></g>
<g id="n-HNRNPM" class="m"><circle cx="886" cy="123" r="17.5"/><text x="886" y="123"><tspan x="886" dy="-4.75">HNR</tspan><tspan x="886" dy="9.5">NPM</tspan></text></g>
<g id="n-ELAVL1" class="m"><circle cx="927" cy="127" r="17.5"/><text x="927" y="127">ELAVL1</text></g>
<g id="n-PNO1" class="m"><circle cx="966" cy="134" r="17.5"/><text x="966" y="134">PNO1</text></g>
<g id="n-AIMP1" class="m"><circle cx="629" cy="143" r="17.5"/><text x="629" y="143">AIMP1</text></g>
<g id="n-ZNFX1" class="m"><circle cx="666" cy="150" r="17.5"/><text x="666" y="150">ZNFX1</text></g>
<g id="n-PRPF4" class="m"><circle cx="703" cy="152" r="17.5"/><text x="703" y="152">PRPF4</text></g>
<g id="n-SNRPB2" class="m"><circle cx="743" cy="150" r="17.5"/><text class="s8" x="743" y="150">SNRPB2</text></g>
<g id="n-HNRNPF" class="m"><circle cx="783" cy="148" r="17.5"/><text x="783" y="148"><tspan x="783" dy="-4.75">HNR</tspan><tspan x="783" dy="9.5">NPF</tspan></text></g>
<g id="n-HNRNPR" class="m"><circle cx="822" cy="147" r="17.5"/><text x="822" y="147"><tspan x="822" dy="-4.75">HNR</tspan><tspan x="822" dy="9.5">NPR</tspan></text></g>
<g id="n-SNRNP70" class="m"><circle cx="862" cy="153" r="17.5"/><text x="862" y="153"><tspan x="862" dy="-4.75">SNR</tspan><tspan x="862" dy="9.5">NP70</tspan></text></g>
<g id="n-PPAN" class="m"><circle cx="902" cy="158" r="17.5"/><text x="902" y="158">PPAN</text></g>
<g id="n-SART3" class="m"><circle cx="939" cy="162" r="17.5"/><text x="939" y="162">SART3</text></g>
<g id="n-NSUN2" class="m"><circle cx="636" cy="180" r="17.5"/><text x="636" y="180">NSUN2</text></g>
<g id="n-HNRNPH1" class="m"><circle cx="672" cy="186" r="17.5"/><text x="672" y="186"><tspan x="672" dy="-4.75">HNR</tspan><tspan x="672" dy="9.5">NPH1</tspan></text></g>
<g id="n-PABPC4" class="m"><circle cx="717" cy="187" r="17.5"/><text class="s8" x="717" y="187">PABPC4</text></g>
<g id="n-SYNCRIP" class="m"><circle cx="756" cy="185" r="17.5"/><text class="s7" x="756" y="185">SYNCRIP</text></g>
<g id="n-HNRNPD" class="m"><circle cx="797" cy="184" r="17.5"/><text x="797" y="184"><tspan x="797" dy="-4.75">HNR</tspan><tspan x="797" dy="9.5">NPD</tspan></text></g>
<g id="n-GRSF1" class="m"><circle cx="836" cy="183" r="17.5"/><text x="836" y="183">GRSF1</text></g>
<g id="n-SERBP1" class="m"><circle cx="873" cy="188" r="17.5"/><text class="s8" x="873" y="188">SERBP1</text></g>
<g id="n-DARS" class="m"><circle cx="909" cy="194" r="17.5"/><text x="909" y="194">DARS</text></g>
<g id="n-HNRNPA2B1" class="m"><circle cx="947" cy="199" r="17.5"/><text x="947" y="199"><tspan x="947" dy="-4.75">HNRN</tspan><tspan x="947" dy="9.5">PA2B1</tspan></text></g>
<g id="n-YBX1" class="m"><circle cx="627" cy="217" r="17.5"/><text x="627" y="217">YBX1</text></g>
<g id="n-AGO2" class="m"><circle cx="666" cy="223" r="17.5"/><text x="666" y="223">AGO2</text></g>
<g id="n-IGF2BP1" class="m"><circle cx="702" cy="220" r="17.5"/><text class="s8" x="702" y="220">IGF2BP1</text></g>
<g id="n-DHX9" class="m"><circle cx="740" cy="220" r="17.5"/><text x="740" y="220">DHX9</text></g>
<g id="n-ZCCHC8" class="m"><circle cx="777" cy="217" r="17.5"/><text x="777" y="217"><tspan x="777" dy="-4.75">ZCC</tspan><tspan x="777" dy="9.5">HC8</tspan></text></g>
<g id="n-RBFOX2" class="m"><circle cx="815" cy="216" r="17.5"/><text class="s8" x="815" y="216">RBFOX2</text></g>
<g id="n-SRSF3" class="m"><circle cx="853" cy="219" r="17.5"/><text x="853" y="219">SRSF3</text></g>
<g id="n-CPSF7" class="m"><circle cx="891" cy="226" r="17.5"/><text x="891" y="226">CPSF7</text></g>
<g id="n-HNRNPK" class="m"><circle cx="928" cy="234" r="17.5"/><text x="928" y="234"><tspan x="928" dy="-4.75">HNR</tspan><tspan x="928" dy="9.5">NPK</tspan></text></g>
<g id="n-HNRNPA0" class="m"><circle cx="644" cy="255" r="17.5"/><text x="644" y="255"><tspan x="644" dy="-4.75">HNRN</tspan><tspan x="644" dy="9.5">PA0</tspan></text></g>
<g id="n-DDX54" class="m"><circle cx="683" cy="255" r="17.5"/><text x="683" y="255">DDX54</text></g>
<g id="n-PTBP1" class="m"><circle cx="720" cy="254" r="17.5"/><text x="720" y="254">PTBP1</text></g>
<g id="n-HNRNPA1" class="m"><circle cx="758" cy="254" r="17.5"/><text x="758" y="254"><tspan x="758" dy="-4.75">HNR</tspan><tspan x="758" dy="9.5">NPA1</tspan></text></g>
<g id="n-XPOT" class="m"><circle cx="796" cy="251" r="17.5"/><text x="796" y="251">XPOT</text></g>
<g id="n-HNRPDL" class="m"><circle cx="832" cy="254" r="17.5"/><text x="832" y="254"><tspan x="832" dy="-4.75">HNR</tspan><tspan x="832" dy="9.5">PDL</tspan></text></g>
<g id="n-RARS" class="m"><circle cx="869" cy="258" r="17.5"/><text x="869" y="258">RARS</text></g>
<g id="n-EPRS" class="m"><circle cx="905" cy="263" r="17.5"/><text x="905" y="263">EPRS</text></g>
<g id="n-HNRNPA3" class="m"><circle cx="661" cy="290" r="17.5"/><text x="661" y="290"><tspan x="661" dy="-4.75">HNRN</tspan><tspan x="661" dy="9.5">PA3</tspan></text></g>
<g id="n-NONO" class="m"><circle cx="697" cy="290" r="17.5"/><text x="697" y="290">NONO</text></g>
<g id="n-HNRNPU" class="m"><circle cx="737" cy="289" r="17.5"/><text x="737" y="289"><tspan x="737" dy="-4.75">HNRN</tspan><tspan x="737" dy="9.5">PU</tspan></text></g>
<g id="n-SNRNP200" class="m"><circle cx="773" cy="289" r="17.5"/><text x="773" y="289"><tspan x="773" dy="-4.75">SNRN</tspan><tspan x="773" dy="9.5">P200</tspan></text></g>
<g id="n-HNRNPUL1" class="m"><circle cx="812" cy="288" r="17.5"/><text x="812" y="288"><tspan x="812" dy="-4.75">HNRN</tspan><tspan x="812" dy="9.5">PUL1</tspan></text></g>
<g id="n-PCBP1" class="m"><circle cx="849" cy="291" r="17.5"/><text x="849" y="291">PCBP1</text></g>
<g id="n-HNRNPH2" class="m"><circle cx="887" cy="298" r="17.5"/><text x="887" y="298"><tspan x="887" dy="-4.75">HNRN</tspan><tspan x="887" dy="9.5">PH2</tspan></text></g>
<g id="n-DDX5" class="m"><circle cx="673" cy="324" r="17.5"/><text x="673" y="324">DDX5</text></g>
<g id="n-DDX17" class="m"><circle cx="712" cy="323" r="17.5"/><text x="712" y="323">DDX17</text></g>
<g id="n-CROP" class="m"><circle cx="753" cy="322" r="17.5"/><text x="753" y="322">CROP</text></g>
<g id="n-SNRPA" class="m"><circle cx="790" cy="323" r="17.5"/><text x="790" y="323">SNRPA</text></g>
<g id="n-HNRNPH3" class="m"><circle cx="828" cy="323" r="17.5"/><text x="828" y="323"><tspan x="828" dy="-4.75">HNRN</tspan><tspan x="828" dy="9.5">PH3</tspan></text></g>
<g id="n-MARS" class="m"><circle cx="864" cy="326" r="17.5"/><text x="864" y="326">MARS</text></g>

<g id="n-DDX55" class="g"><circle cx="1067" cy="255" r="17.5"/><text x="1067" y="255">DDX55</text></g>
<g id="n-ABCF1" class="g"><circle cx="1037" cy="278" r="17.5"/><text x="1037" y="278">ABCF1</text></g>
<g id="n-TUBB4B" class="g"><circle cx="1082" cy="289" r="17.5"/><text class="s8" x="1082" y="289">TUBB4B</text></g>
<g id="n-TUBA4A" class="g"><circle cx="1121" cy="285" r="17.5"/><text class="s8" x="1121" y="285">TUBA4A</text></g>
<g id="n-ACTG1" class="g"><circle cx="1006" cy="309" r="17.5"/><text x="1006" y="309">ACTG1</text></g>
<g id="n-GNL3" class="g"><circle cx="1050" cy="312" r="17.5"/><text x="1050" y="312">GNL3</text></g>
<g id="n-ARCN1" class="g"><circle cx="1102" cy="319" r="17.5"/><text x="1102" y="319">ARCN1</text></g>
<g id="n-CCDC86" class="g"><circle cx="1152" cy="310" r="17.5"/><text class="s8" x="1152" y="310">CCDC86</text></g>
<g id="n-LTA4H" class="g"><circle cx="956" cy="351" r="17.5"/><text x="956" y="351">LTA4H</text></g>
<g id="n-FASN" class="g"><circle cx="993" cy="344" r="17.5"/><text x="993" y="344">FASN</text></g>
<g id="n-ZC3HAV1" class="g"><circle cx="1030" cy="348" r="17.5"/><text x="1030" y="348"><tspan x="1030" dy="-4.75">ZC3</tspan><tspan x="1030" dy="9.5">HAV1</tspan></text></g>
<g id="n-AP2M1" class="g"><circle cx="1069" cy="343" r="17.5"/><text x="1069" y="343">AP2M1</text></g>
<g id="n-DDX50" class="g"><circle cx="1133" cy="342" r="17.5"/><text x="1133" y="342">DDX50</text></g>
<g id="n-CSNK2A1" class="g"><circle cx="1172" cy="341" r="17.5"/><text x="1172" y="341"><tspan x="1172" dy="-4.75">CSN</tspan><tspan x="1172" dy="9.5">K2A1</tspan></text></g>
<g id="n-IFIT5" class="g"><circle cx="1104" cy="363" r="17.5"/><text x="1104" y="363">IFIT5</text></g>
<g id="n-MMTAG2" class="g"><circle cx="928" cy="382" r="17.5"/><text class="s7" x="928" y="382">MMTAG2</text></g>
<g id="n-TUBA1A" class="g"><circle cx="978" cy="383" r="17.5"/><text class="s8" x="978" y="383">TUBA1A</text></g>
<g id="n-TINAGL1" class="g"><circle cx="1017" cy="385" r="17.5"/><text class="s7" x="1017" y="385">TINAGL1</text></g>
<g id="n-PGR3" class="g"><circle cx="1054" cy="378" r="17.5"/><text x="1054" y="378">PGR3</text></g>
<g id="n-DDX49" class="g"><circle cx="1146" cy="379" r="17.5"/><text x="1146" y="379">DDX49</text></g>
<g id="n-NAMPT" class="g"><circle cx="1191" cy="374" r="17.5"/><text x="1191" y="374">NAMPT</text></g>
<g id="n-ACTB" class="g"><circle cx="1108" cy="399" r="17.5"/><text x="1108" y="399">ACTB</text></g>
<g id="n-HNRNPUL2" class="g"><circle cx="913" cy="417" r="17.5"/><text x="913" y="417"><tspan x="913" dy="-4.75">HNRN</tspan><tspan x="913" dy="9.5">PUL2</tspan></text></g>
<g id="n-IPO7" class="g"><circle cx="950" cy="411" r="17.5"/><text x="950" y="411">IPO7</text></g>
<g id="n-DNAJC9" class="g"><circle cx="996" cy="417" r="17.5"/><text class="s8" x="996" y="417">DNAJC9</text></g>
<g id="n-ACTR1A" class="g"><circle cx="1035" cy="418" r="17.5"/><text class="s8" x="1035" y="418">ACTR1A</text></g>
<g id="n-STAU2" class="g"><circle cx="1073" cy="413" r="17.5"/><text x="1073" y="413">STAU2</text></g>
<g id="n-AP1M1" class="g"><circle cx="1173" cy="407" r="17.5"/><text x="1173" y="407">AP1M1</text></g>
<g id="n-ACTR1B" class="g"><circle cx="1213" cy="417" r="17.5"/><text class="s8" x="1213" y="417">ACTR1B</text></g>
<g id="n-GPATCH4" class="g"><circle cx="1144" cy="428" r="17.5"/><text x="1144" y="428"><tspan x="1144" dy="-4.75">GPA</tspan><tspan x="1144" dy="9.5">TCH4</tspan></text></g>
<g id="n-FAM177A1" class="g"><circle cx="1109" cy="436" r="17.5"/><text x="1109" y="436"><tspan x="1109" dy="-4.75">FAM</tspan><tspan x="1109" dy="9.5">177A1</tspan></text></g>
<g id="n-TRIM56" class="g"><circle cx="929" cy="451" r="17.5"/><text x="929" y="451">TRIM56</text></g>
<g id="n-RTCB" class="g"><circle cx="966" cy="444" r="17.5"/><text x="966" y="444">RTCB</text></g>
<g id="n-PTCD1" class="g"><circle cx="1002" cy="456" r="17.5"/><text x="1002" y="456">PTCD1</text></g>
<g id="n-TRIM25" class="g"><circle cx="1038" cy="456" r="17.5"/><text x="1038" y="456">TRIM25</text></g>
<g id="n-MRPL38" class="g"><circle cx="1075" cy="451" r="17.5"/><text x="1075" y="451">MRPL38</text></g>
<g id="n-CSDE1" class="g"><circle cx="1177" cy="443" r="17.5"/><text x="1177" y="443">CSDE1</text></g>
<g id="n-DDX27" class="g"><circle cx="1213" cy="457" r="17.5"/><text x="1213" y="457">DDX27</text></g>
<g id="n-LYAR" class="g"><circle cx="1114" cy="474" r="17.5"/><text x="1114" y="474">LYAR</text></g>
<g id="n-DDX21" class="g"><circle cx="1156" cy="470" r="17.5"/><text x="1156" y="470">DDX21</text></g>
<g id="n-NCL" class="g"><circle cx="949" cy="483" r="17.5"/><text x="949" y="483">NCL</text></g>
<g id="n-DDX3X" class="g"><circle cx="987" cy="491" r="17.5"/><text x="987" y="491">DDX3X</text></g>
<g id="n-DDX28" class="g"><circle cx="1030" cy="492" r="17.5"/><text x="1030" y="492">DDX28</text></g>
<g id="n-MUS81" class="g"><circle cx="1069" cy="487" r="17.5"/><text x="1069" y="487">MUS81</text></g>

<g id="n-TOE1" class="r"><circle cx="462" cy="606" r="17.5"/><text x="462" y="606">TOE1</text></g>
<g id="n-H1F0" class="r"><circle cx="500" cy="604" r="17.5"/><text x="500" y="604">H1F0</text></g>
<g id="n-HIST1H2BN" class="r"><circle cx="398" cy="632" r="17.5"/><text x="398" y="632"><tspan x="398" dy="-4.75">HIST1</tspan><tspan x="398" dy="9.5">H2BN</tspan></text></g>
<g id="n-H1FX" class="r"><circle cx="435" cy="631" r="17.5"/><text x="435" y="631">H1FX</text></g>
<g id="n-HIST1H2BD" class="r"><circle cx="476" cy="641" r="17.5"/><text x="476" y="641"><tspan x="476" dy="-4.75">HIST1</tspan><tspan x="476" dy="9.5">H2BD</tspan></text></g>
<g id="n-H4A" class="r"><circle cx="518" cy="637" r="17.5"/><text x="518" y="637">H4A</text></g>
<g id="n-H2BFQ" class="r"><circle cx="324" cy="653" r="17.5"/><text x="324" y="653"><tspan x="324" dy="-4.75">H2B</tspan><tspan x="324" dy="9.5">FQ</tspan></text></g>
<g id="n-HIST1H2BH" class="r"><circle cx="362" cy="645" r="17.5"/><text x="362" y="645"><tspan x="362" dy="-4.75">HIST1</tspan><tspan x="362" dy="9.5">H2BH</tspan></text></g>
<g id="n-PAX3" class="r"><circle cx="289" cy="664" r="17.5"/><text x="289" y="664">PAX3</text></g>
<g id="n-ESF1" class="r"><circle cx="399" cy="667" r="17.5"/><text x="399" y="667">ESF1</text></g>
<g id="n-ASF1B" class="r"><circle cx="442" cy="665" r="17.5"/><text x="442" y="665">ASF1B</text></g>
<g id="n-HIST1H2BK" class="r"><circle cx="498" cy="670" r="17.5"/><text x="498" y="670"><tspan x="498" dy="-4.75">HIST1</tspan><tspan x="498" dy="9.5">H2BK</tspan></text></g>
<g id="n-ILF2" class="r"><circle cx="539" cy="674" r="17.5"/><text x="539" y="674">ILF2</text></g>
<g id="n-SUPT16H" class="r"><circle cx="329" cy="690" r="17.5"/><text class="s7" x="329" y="690">SUPT16H</text></g>
<g id="n-HIST1H2BJ" class="r"><circle cx="364" cy="682" r="17.5"/><text x="364" y="682"><tspan x="364" dy="-4.75">HIST1</tspan><tspan x="364" dy="9.5">H2BJ</tspan></text></g>
<g id="n-HIST1H1E" class="r"><circle cx="423" cy="696" r="17.5"/><text x="423" y="696"><tspan x="423" dy="-4.75">HIST1</tspan><tspan x="423" dy="9.5">H1E</tspan></text></g>
<g id="n-H2AFY" class="r"><circle cx="468" cy="695" r="17.5"/><text x="468" y="695">H2AFY</text></g>
<g id="n-HIST1H2BO" class="r"><circle cx="512" cy="706" r="17.5"/><text x="512" y="706"><tspan x="512" dy="-4.75">HIST1</tspan><tspan x="512" dy="9.5">H2BO</tspan></text></g>
<g id="n-POLR3B" class="r"><circle cx="552" cy="711" r="17.5"/><text class="s8" x="552" y="711">POLR3B</text></g>
<g id="n-H3.2" class="r"><circle cx="287" cy="699" r="17.5"/><text x="287" y="699">H3.2</text></g>
<g id="n-H2AFV" class="r"><circle cx="384" cy="712" r="17.5"/><text x="384" y="712">H2AFV</text></g>
<g id="n-NAT10" class="r"><circle cx="352" cy="720" r="17.5"/><text x="352" y="720">NAT10</text></g>
<g id="n-HSPD1" class="r"><circle cx="315" cy="724" r="17.5"/><text x="315" y="724">HSPD1</text></g>
<g id="n-HIST2H2BF" class="r"><circle cx="443" cy="726" r="17.5"/><text x="443" y="726"><tspan x="443" dy="-4.75">HIST2</tspan><tspan x="443" dy="9.5">H2BF</tspan></text></g>
<g id="n-HIST1H1C" class="r"><circle cx="484" cy="733" r="17.5"/><text x="484" y="733"><tspan x="484" dy="-4.75">HIST1</tspan><tspan x="484" dy="9.5">H1C</tspan></text></g>
<g id="n-POLR1C" class="r"><circle cx="523" cy="740" r="17.5"/><text class="s8" x="523" y="740">POLR1C</text></g>
<g id="n-HIST1H2BB" class="r"><circle cx="278" cy="738" r="17.5"/><text x="278" y="738"><tspan x="278" dy="-4.75">HIST1</tspan><tspan x="278" dy="9.5">H2BB</tspan></text></g>
<g id="n-CHD3" class="r"><circle cx="336" cy="754" r="17.5"/><text x="336" y="754">CHD3</text></g>
<g id="n-HIST1H2BM" class="r"><circle cx="372" cy="750" r="17.5"/><text x="372" y="750"><tspan x="372" dy="-4.75">HIST1</tspan><tspan x="372" dy="9.5">H2BM</tspan></text></g>
<g id="n-H2AFZ" class="r"><circle cx="408" cy="744" r="17.5"/><text x="408" y="744">H2AFZ</text></g>
<g id="n-FLNA" class="r"><circle cx="456" cy="762" r="17.5"/><text x="456" y="762">FLNA</text></g>
<g id="n-HIST1H1D" class="r"><circle cx="495" cy="768" r="17.5"/><text x="495" y="768"><tspan x="495" dy="-4.75">HIST1</tspan><tspan x="495" dy="9.5">H1D</tspan></text></g>
<g id="n-HIST1H2BL" class="r"><circle cx="301" cy="770" r="17.5"/><text x="301" y="770"><tspan x="301" dy="-4.75">HIST1</tspan><tspan x="301" dy="9.5">H2BL</tspan></text></g>
<g id="n-H3F3B" class="r"><circle cx="339" cy="792" r="17.5"/><text x="339" y="792">H3F3B</text></g>
<g id="n-HIST3H3" class="r"><circle cx="383" cy="787" r="17.5"/><text x="383" y="787"><tspan x="383" dy="-4.75">HIST3</tspan><tspan x="383" dy="9.5">H3</tspan></text></g>
<g id="n-SMARCA5" class="r"><circle cx="422" cy="782" r="17.5"/><text class="s7" x="422" y="782">SMARCA5</text></g>
<g id="n-HIST1H1B" class="r"><circle cx="469" cy="801" r="17.5"/><text x="469" y="801"><tspan x="469" dy="-4.75">HIST1</tspan><tspan x="469" dy="9.5">H1B</tspan></text></g>
<g id="n-GTF2I" class="r"><circle cx="363" cy="822" r="17.5"/><text x="363" y="822">GTF2I</text></g>
<g id="n-H3.1" class="r"><circle cx="408" cy="817" r="17.5"/><text x="408" y="817">H3.1</text></g>
<g id="n-PRKDC" class="r"><circle cx="441" cy="831" r="17.5"/><text x="441" y="831">PRKDC</text></g>
<g id="n-H2B" class="r"><circle cx="388" cy="848" r="17.5"/><text x="388" y="848">H2B</text></g>
<g id="n-ABT1" class="r"><circle cx="424" cy="863" r="17.5"/><text x="424" y="863">ABT1</text></g>

<g id="n-CLTC" class="gr"><circle cx="633" cy="758" r="17.5"/><text x="633" y="758">CLTC</text></g>
<g id="n-ENO1" class="gr"><circle cx="701" cy="763" r="17.5"/><text x="701" y="763">ENO1</text></g>
<g id="n-YWHAB" class="gr"><circle cx="739" cy="767" r="17.5"/><text class="s8" x="739" y="767">YWHAB</text></g>
<g id="n-GAPDH" class="gr"><circle cx="667" cy="781" r="17.5"/><text x="667" y="781">GAPDH</text></g>
<g id="n-HNRNPAB" class="gr"><circle cx="632" cy="797" r="17.5"/><text class="s7" x="632" y="797">HNRNPAB</text></g>
<g id="n-RBBP7" class="gr"><circle cx="699" cy="803" r="17.5"/><text x="699" y="803">RBBP7</text></g>
<g id="n-IGF2BP3" class="gr"><circle cx="735" cy="803" r="17.5"/><text x="735" y="803"><tspan x="735" dy="-4.75">IGF2</tspan><tspan x="735" dy="9.5">BP3</tspan></text></g>
<g id="n-GSTM3" class="gr"><circle cx="598" cy="811" r="17.5"/><text x="598" y="811">GSTM3</text></g>
<g id="n-CBR1" class="gr"><circle cx="663" cy="821" r="17.5"/><text x="663" y="821">CBR1</text></g>
<g id="n-PURB" class="gr"><circle cx="629" cy="834" r="17.5"/><text x="629" y="834">PURB</text></g>
<g id="n-HSP90AA1" class="gr"><circle cx="698" cy="841" r="17.5"/><text x="698" y="841"><tspan x="698" dy="-4.75">HSP90</tspan><tspan x="698" dy="9.5">AA1</tspan></text></g>
<g id="n-PFKP" class="gr"><circle cx="735" cy="839" r="17.5"/><text x="735" y="839">PFKP</text></g>
<g id="n-CBR3" class="gr"><circle cx="594" cy="851" r="17.5"/><text x="594" y="851">CBR3</text></g>
<g id="n-METTL18" class="gr"><circle cx="664" cy="859" r="17.5"/><text class="s7" x="664" y="859">METTL18</text></g>
<g id="n-LDHA" class="gr"><circle cx="628" cy="871" r="17.5"/><text x="628" y="871">LDHA</text></g>
<g id="n-SUCLG2" class="gr"><circle cx="698" cy="878" r="17.5"/><text class="s7" x="698" y="878">SUCLG2</text></g>
<g id="n-CAD" class="gr"><circle cx="734" cy="877" r="17.5"/><text x="734" y="877">CAD</text></g>
<g id="n-ATP5A1" class="gr"><circle cx="591" cy="885" r="17.5"/><text x="591" y="885">ATP5A1</text></g>
<g id="n-PRDX1" class="gr"><circle cx="660" cy="897" r="17.5"/><text x="660" y="897">PRDX1</text></g>
<g id="n-LDHB" class="gr"><circle cx="623" cy="907" r="17.5"/><text x="623" y="907">LDHB</text></g>
<g id="n-PURA" class="gr"><circle cx="694" cy="914" r="17.5"/><text x="694" y="914">PURA</text></g>
<g id="n-YBX3" class="gr"><circle cx="732" cy="915" r="17.5"/><text x="732" y="915">YBX3</text></g>
<g id="n-HSP90AB1" class="gr"><circle cx="583" cy="921" r="17.5"/><text x="583" y="921"><tspan x="583" dy="-4.75">HSP90</tspan><tspan x="583" dy="9.5">AB1</tspan></text></g>
<g id="n-CPS1" class="gr"><circle cx="613" cy="939" r="17.5"/><text x="613" y="939">CPS1</text></g>
<g id="n-ACAA2" class="gr"><circle cx="649" cy="932" r="17.5"/><text x="649" y="932">ACAA2</text></g>
<g id="n-ZGPAT" class="gr"><circle cx="682" cy="949" r="17.5"/><text x="682" y="949">ZGPAT</text></g>
<g id="n-ACLY" class="gr"><circle cx="721" cy="951" r="17.5"/><text x="721" y="951">ACLY</text></g>

<g id="n-SIRT2" class="y"><circle cx="894" cy="718" r="17.5"/><text x="894" y="718">SIRT2</text></g>
<g id="n-PSMD3" class="y"><circle cx="859" cy="739" r="17.5"/><text x="859" y="739">PSMD3</text></g>
<g id="n-POLD1" class="y"><circle cx="928" cy="738" r="17.5"/><text x="928" y="738">POLD1</text></g>
<g id="n-CDC5L" class="y"><circle cx="894" cy="759" r="17.5"/><text x="894" y="759">CDC5L</text></g>
<g id="n-SMC4" class="y"><circle cx="961" cy="762" r="17.5"/><text x="961" y="762">SMC4</text></g>
<g id="n-HNF4A" class="y"><circle cx="829" cy="766" r="17.5"/><text x="829" y="766">HNF4A</text></g>
<g id="n-FBXO6" class="y"><circle cx="865" cy="786" r="17.5"/><text x="865" y="786">FBXO6</text></g>
<g id="n-PHGDH" class="y"><circle cx="912" cy="793" r="17.5"/><text x="912" y="793">PHGDH</text></g>
<g id="n-KPNA2" class="y"><circle cx="954" cy="798" r="17.5"/><text x="954" y="798">KPNA2</text></g>
<g id="n-ILF3" class="y"><circle cx="994" cy="798" r="17.5"/><text x="994" y="798">ILF3</text></g>
<g id="n-PSMC1" class="y"><circle cx="1034" cy="814" r="17.5"/><text x="1034" y="814">PSMC1</text></g>
<g id="n-SMC3" class="y"><circle cx="833" cy="806" r="17.5"/><text x="833" y="806">SMC3</text></g>
<g id="n-APP" class="y"><circle cx="885" cy="819" r="17.5"/><text x="885" y="819">APP</text></g>
<g id="n-CSNK2A2" class="y"><circle cx="927" cy="828" r="17.5"/><text class="s7" x="927" y="828">CSNK2A2</text></g>
<g id="n-BUB3" class="y"><circle cx="965" cy="839" r="17.5"/><text x="965" y="839">BUB3</text></g>
<g id="n-TRIP13" class="y"><circle cx="1003" cy="836" r="17.5"/><text x="1003" y="836">TRIP13</text></g>
<g id="n-CDC73" class="y"><circle cx="852" cy="839" r="17.5"/><text x="852" y="839">CDC73</text></g>
<g id="n-MCM6" class="y"><circle cx="893" cy="858" r="17.5"/><text x="893" y="858">MCM6</text></g>
<g id="n-DYNC1H1" class="y"><circle cx="937" cy="869" r="17.5"/><text class="s7" x="937" y="869">DYNC1H1</text></g>
<g id="n-KIF11" class="y"><circle cx="986" cy="872" r="17.5"/><text x="986" y="872">KIF11</text></g>
<g id="n-MYH9" class="y"><circle cx="859" cy="878" r="17.5"/><text x="859" y="878">MYH9</text></g>
<g id="n-MSH6" class="y"><circle cx="906" cy="896" r="17.5"/><text x="906" y="896">MSH6</text></g>
<g id="n-MCM3" class="y"><circle cx="872" cy="914" r="17.5"/><text x="872" y="914">MCM3</text></g>

<g id="n-CCT3" class="b"><circle cx="970" cy="606" r="17.5"/><text x="970" y="606">CCT3</text></g>
<g id="n-TCP1" class="b"><circle cx="1009" cy="603" r="17.5"/><text x="1009" y="603">TCP1</text></g>
<g id="n-HSPA6" class="b"><circle cx="1045" cy="609" r="17.5"/><text x="1045" y="609">HSPA6</text></g>
<g id="n-DNAJA1" class="b"><circle cx="1083" cy="612" r="17.5"/><text class="s8" x="1083" y="612">DNAJA1</text></g>
<g id="n-DRG1" class="b"><circle cx="1119" cy="614" r="17.5"/><text x="1119" y="614">DRG1</text></g>
<g id="n-HSPA9" class="b"><circle cx="1157" cy="619" r="17.5"/><text x="1157" y="619">HSPA9</text></g>
<g id="n-CCT4" class="b"><circle cx="957" cy="640" r="17.5"/><text x="957" y="640">CCT4</text></g>
<g id="n-CCT2" class="b"><circle cx="994" cy="638" r="17.5"/><text x="994" y="638">CCT2</text></g>
<g id="n-SMURF1" class="b"><circle cx="1032" cy="644" r="17.5"/><text class="s8" x="1032" y="644">SMURF1</text></g>
<g id="n-CCT7" class="b"><circle cx="1068" cy="647" r="17.5"/><text x="1068" y="647">CCT7</text></g>
<g id="n-CAND1" class="b"><circle cx="1105" cy="649" r="17.5"/><text x="1105" y="649">CAND1</text></g>
<g id="n-CCT8" class="b"><circle cx="1142" cy="653" r="17.5"/><text x="1142" y="653">CCT8</text></g>
<g id="n-HSPA5" class="b"><circle cx="979" cy="671" r="17.5"/><text x="979" y="671">HSPA5</text></g>
<g id="n-IFIT3" class="b"><circle cx="1015" cy="678" r="17.5"/><text x="1015" y="678">IFIT3</text></g>
<g id="n-BAG1" class="b"><circle cx="1052" cy="681" r="17.5"/><text x="1052" y="681">BAG1</text></g>
<g id="n-CSE1L" class="b"><circle cx="1092" cy="683" r="17.5"/><text x="1092" y="683">CSE1L</text></g>
<g id="n-GRWD1" class="b"><circle cx="1130" cy="688" r="17.5"/><text x="1130" y="688">GRWD1</text></g>
<g id="n-IFIT1" class="b"><circle cx="1071" cy="713" r="17.5"/><text x="1071" y="713">IFIT1</text></g>
<g id="n-IFIT2" class="b"><circle cx="1108" cy="718" r="17.5"/><text x="1108" y="718">IFIT2</text></g>

<g id="n-RIOK1"><circle cx="726" cy="546" r="47" fill="#000"/><text x="726" y="546" style="font-size:25px">RIOK1</text></g>
</g>
</svg>
